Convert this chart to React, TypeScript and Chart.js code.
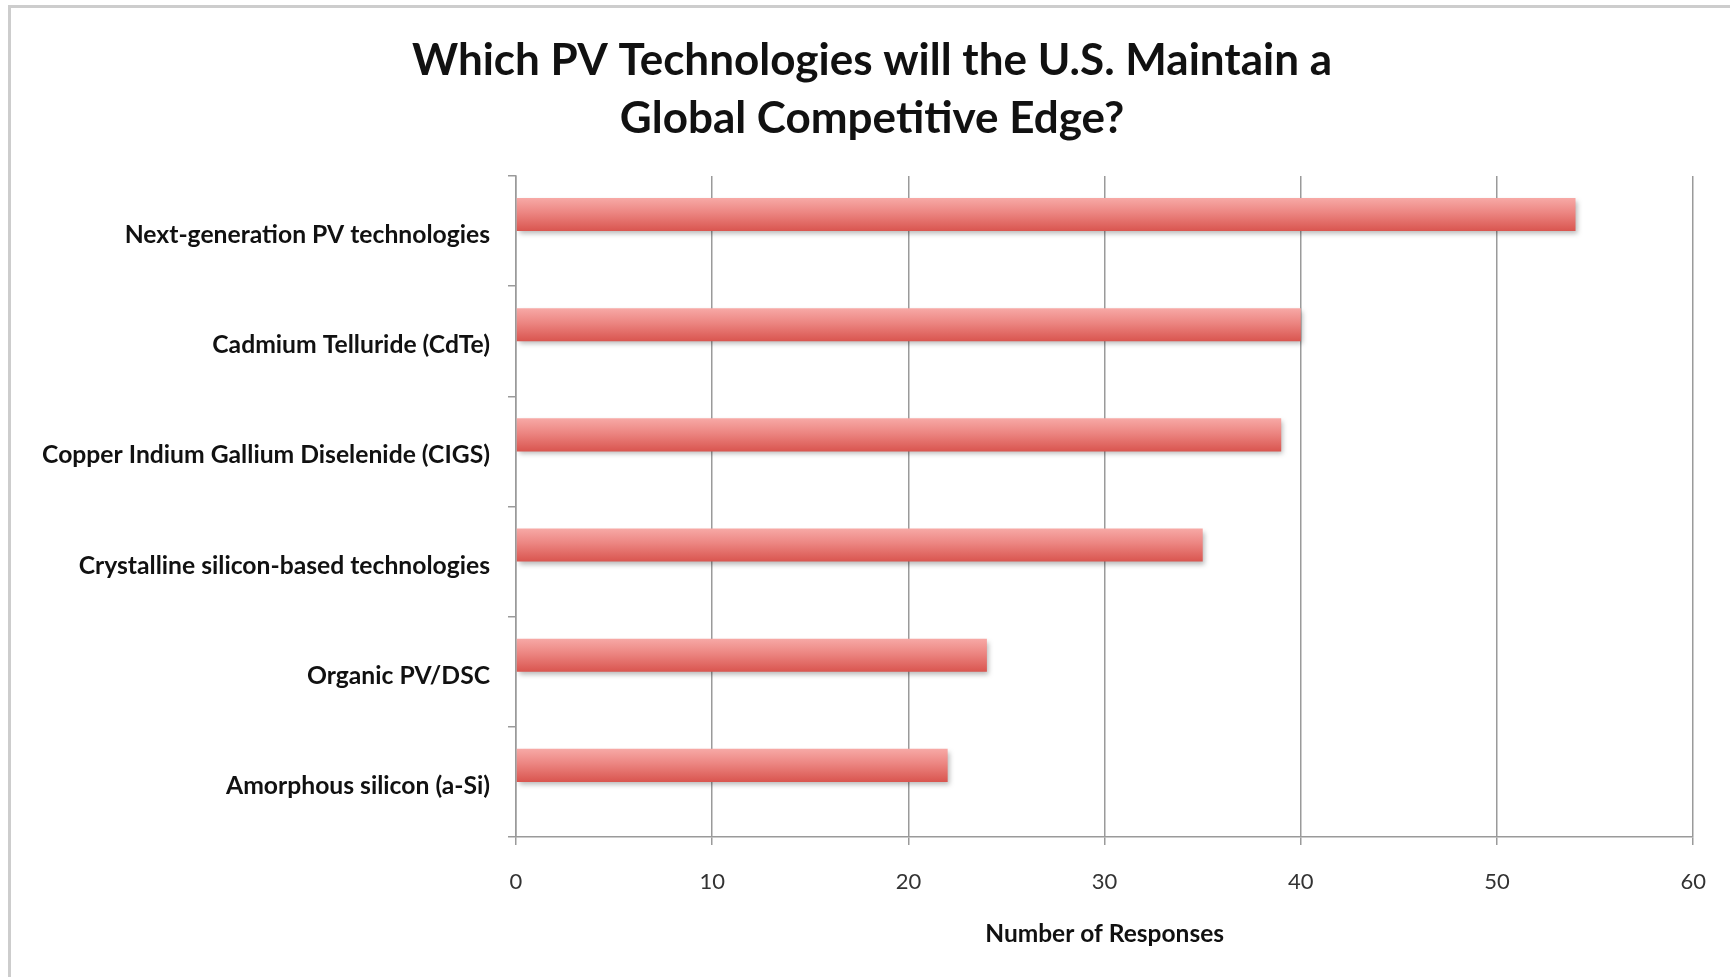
import React, { useEffect, useRef } from "react";
import { Chart, registerables } from "chart.js";

Chart.register(...registerables);

const titleLines = ["Which PV Technologies will the U.S. Maintain a", "Global Competitive Edge?"];
const categories = [
  "Next-generation PV technologies",
  "Cadmium Telluride (CdTe)",
  "Copper Indium Gallium Diselenide (CIGS)",
  "Crystalline silicon-based technologies",
  "Organic PV/DSC",
  "Amorphous silicon (a-Si)",
];
const responses = [54, 40, 39, 35, 24, 22];
const emptySeries = [null, null, null, null, null, null];
const xAxisTitle = "Number of Responses";
const xMin = 0;
const xMax = 60;
const xStep = 10;

const FONT = "Lato, 'Open Sans', sans-serif";

export default function App() {
  const ref = useRef<HTMLCanvasElement | null>(null);

  useEffect(() => {
    const canvas = ref.current;
    if (!canvas) return;

    const shadowPlugin = {
      id: "barShadow",
      afterLayout(chart: any) {
        // widen the label clip area of the category axis so long labels are not cut
        if (chart.scales?.y) chart.scales.y.left = 0;
      },
      beforeDatasetDraw(chart: any) {
        const c = chart.ctx;
        c.save();
        c.shadowColor = "rgba(0,0,0,0.28)";
        c.shadowBlur = 5;
        c.shadowOffsetX = 2;
        c.shadowOffsetY = 3;
      },
      afterDatasetDraw(chart: any) {
        chart.ctx.restore();
      },
    };

    const gradientFill = (ctx: any) => {
      const chart = ctx.chart;
      const y = chart.scales?.y;
      if (!y || ctx.type !== "data") return "#e8746f";
      const c = y.getPixelForValue(ctx.dataIndex);
      const band = Math.abs(y.getPixelForValue(1) - y.getPixelForValue(0));
      if (!isFinite(c) || !isFinite(band) || band === 0) return "#e8746f";
      const top = c - band * 0.3;
      const g = chart.ctx.createLinearGradient(0, top, 0, c);
      g.addColorStop(0, "#f7a9a6");
      g.addColorStop(0.45, "#ec8581");
      g.addColorStop(1, "#d9554f");
      return g;
    };

    const chart = new Chart(canvas, {
      type: "bar",
      data: {
        labels: categories,
        datasets: [
          {
            data: responses,
            backgroundColor: gradientFill,
            borderWidth: 0,
            categoryPercentage: 0.6,
            barPercentage: 1.0,
          },
          {
            data: emptySeries as any,
            backgroundColor: "rgba(0,0,0,0)",
            borderWidth: 0,
            categoryPercentage: 0.6,
            barPercentage: 1.0,
          },
        ],
      },
      options: {
        indexAxis: "y",
        animation: false,
        responsive: false,
        devicePixelRatio: 1,
        layout: { padding: { left: 49, right: 35, top: 0, bottom: 0 } },
        plugins: {
          legend: { display: false },
          tooltip: { enabled: false },
          title: {
            display: true,
            text: titleLines,
            color: "#111",
            font: { family: FONT, size: 44, weight: "bold", lineHeight: 58 / 44 },
            padding: { top: 32, bottom: 28 },
          },
        },
        scales: {
          x: {
            type: "linear",
            min: xMin,
            max: xMax,
            afterFit: (scale: any) => {
              scale.height = 140;
            },
            ticks: {
              stepSize: xStep,
              color: "#333",
              padding: 24,
              font: { family: FONT, size: 22 },
            },
            grid: {
              color: "#9a9a9a",
              lineWidth: 1.5,
              tickLength: 8,
              drawTicks: true,
            },
            border: { display: true, color: "#9a9a9a", width: 1.5 },
            title: {
              display: true,
              text: xAxisTitle,
              color: "#111",
              font: { family: FONT, size: 24.5, weight: "bold" },
              padding: { top: 0, bottom: 28 },
            },
          },
          y: {
            type: "category",
            afterFit: (scale: any) => {
              scale.width = 516 - 49;
            },
            ticks: {
              color: "#111",
              padding: 18,
              labelOffset: 4,
              font: { family: FONT, size: 24.7, weight: "bold" },
            },
            grid: {
              offset: true,
              drawOnChartArea: false,
              drawTicks: true,
              tickLength: 8,
              color: "#9a9a9a",
              lineWidth: 1.5,
            },
            border: { display: true, color: "#9a9a9a", width: 1.5 },
          },
        },
      },
      plugins: [shadowPlugin],
    });

    return () => chart.destroy();
  }, []);

  return (
    <div style={{ position: "fixed", left: 0, top: 0, width: 1730, height: 977, background: "#fff", overflow: "hidden" }}>
      <div
        style={{
          position: "absolute",
          left: 8,
          top: 5,
          width: 1800,
          height: 1100,
          borderLeft: "3px solid #cdcdcd",
          borderTop: "3px solid #cdcdcd",
        }}
      />
      <canvas ref={ref} width={1730} height={977} style={{ position: "absolute", left: 0, top: 0, width: 1730, height: 977 }} />
    </div>
  );
}
